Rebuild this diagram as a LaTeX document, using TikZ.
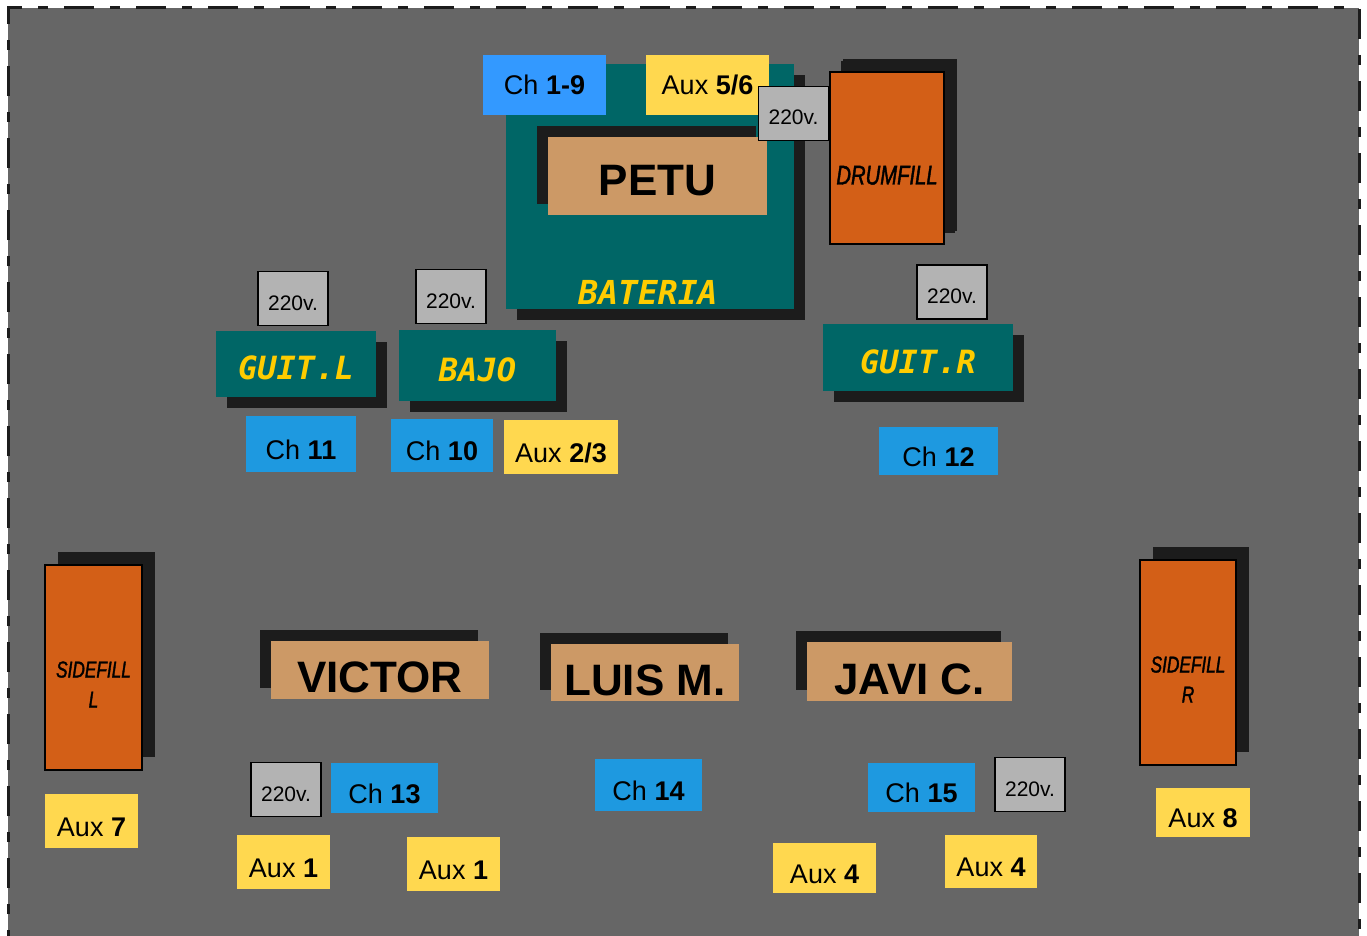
\documentclass[tikz,border=0pt]{standalone}
\usepackage{fontspec}
\setmainfont{Liberation Sans}
\newfontfamily\monofont{DejaVu Sans Mono}
\newfontfamily\spkfont[FakeStretch=0.75,FakeBold=1.5]{Liberation Sans}
\usetikzlibrary{shadows}
\definecolor{stagegray}{HTML}{666666}
\definecolor{shadowc}{HTML}{1C1C1C}
\definecolor{ampteal}{HTML}{006666}
\definecolor{ampyellow}{HTML}{FFCC00}
\definecolor{nametan}{HTML}{CC9966}
\definecolor{spkorange}{HTML}{D35F17}
\definecolor{chblue}{HTML}{1E99E0}
\definecolor{chtop}{HTML}{3399FF}
\definecolor{auxyellow}{HTML}{FFD84F}
\definecolor{voltgray}{HTML}{B3B3B3}
\begin{document}
\begin{tikzpicture}[x=1pt, y=-1pt,
    stagebox/.style={rectangle, inner sep=0pt, text depth=0pt},
    chbox/.style={stagebox, fill=chblue, text height=30pt, font=\fontsize{27}{30}\selectfont},
    auxbox/.style={stagebox, fill=auxyellow, text height=30pt, font=\fontsize{27}{30}\selectfont},
    volt/.style={stagebox, fill=voltgray, draw=black, line width=1.2pt, text height=23pt,
        minimum width=70pt, minimum height=54pt, font=\fontsize{21}{24}\selectfont},
    amp/.style={stagebox, fill=ampteal, text=ampyellow, text height=31pt,
        font=\fontsize{32}{36}\monofont\bfseries\itshape,
        general shadow={fill=shadowc, shadow xshift=11pt, shadow yshift=-11pt}},
    player/.style={stagebox, fill=nametan, text height=45pt, font=\fontsize{44}{48}\selectfont\bfseries,
        general shadow={fill=shadowc, shadow xshift=-11pt, shadow yshift=11pt}},
    speaker/.style={stagebox, fill=spkorange, draw=black, line width=1.2pt, align=center,
        general shadow={fill=shadowc, shadow xshift=13pt, shadow yshift=13pt}}]
    \clip (0,0) rectangle (1367,936);
    % stage
    \fill[stagegray] (8,8) rectangle (1359,960);
    \draw[shadowc, line width=3pt, dash pattern=on 30pt off 16pt on 10pt off 16pt]
        (8,960) -- (8,8) -- (1359,8) -- (1359,960);

    % drums
    \node[amp, minimum width=288pt, minimum height=245pt] (bateria) at (650,186.5) {};
    \node[text=ampyellow, font=\fontsize{33}{36}\monofont\bfseries\itshape] (bateriatxt) at (648,292) {BATERIA};
    \node[player, text height=39pt, minimum width=219pt, minimum height=78pt] (petu) at (657.5,176) {PETU};
    \node[stagebox, fill=chtop, text height=20pt, minimum width=123pt, minimum height=60pt,
        font=\fontsize{27}{30}\selectfont] (ch19) at (544.5,85) {Ch \textbf{1-9}};
    \node[auxbox, text height=20pt, minimum width=123pt, minimum height=60pt] (aux56) at (707.5,85) {Aux \textbf{5/6}};
    \node[speaker, text height=53pt, minimum width=114pt, minimum height=172pt, font=\fontsize{27}{30}\spkfont\itshape,
        general shadow={fill=shadowc, shadow xshift=11pt, shadow yshift=11pt}] (drumfill) at (887,158) {DRUMFILL};

    % 220v boxes
    \foreach \n/\x/\y in {voltdrum/793.5/113.5, voltgl/293/298.5, voltbajo/451/296.5,
        voltgr/952/292, voltvic/286/789.5, voltjavi/1030/784.5}{
        \node[volt] (\n) at (\x,\y) {220v.};
    }

    % amps
    \node[amp, minimum width=160pt, minimum height=66pt] (guitl) at (296,364) {GUIT.L};
    \node[amp, minimum width=157pt, minimum height=71pt] (bajo) at (477.5,365.5) {BAJO};
    \node[amp, minimum width=190pt, minimum height=67pt] (guitr) at (918,357.5) {GUIT.R};

    % channels
    \foreach \n/\x/\y/\w/\h/\t in {ch11/301/444/110/56/11, ch10/442/445.5/102/53/10,
        ch12/938.5/451/119/48/12, ch13/384.5/788/107/50/13, ch14/648.5/785/107/52/14,
        ch15/921.5/787.5/107/49/15}{
        \node[chbox, minimum width=\w pt, minimum height=\h pt] (\n) at (\x,\y) {Ch \textbf{\t}};
    }

    % aux sends
    \foreach \n/\x/\y/\w/\h/\t in {aux23/561/447/114/54/2\slash3, aux7/91.5/821/93/54/7,
        aux8/1203/812.5/94/49/8, auxvica/283.5/862/93/54/1, auxvicb/453.5/864/93/54/1,
        auxjavia/824.5/868/103/50/4, auxjavib/991/861.5/92/53/4}{
        \node[auxbox, minimum width=\w pt, minimum height=\h pt] (\n) at (\x,\y) {Aux \textbf{\t}};
    }

    % sidefills
    \node[speaker, minimum width=97pt, minimum height=205pt, font=\fontsize{23}{30}\spkfont\itshape] (sidel) at (93.5,667.5) {\rule{0pt}{50pt}SIDEFILL\\L};
    \node[speaker, minimum width=96pt, minimum height=205pt, font=\fontsize{23}{30}\spkfont\itshape] (sider) at (1188,662.5) {\rule{0pt}{50pt}SIDEFILL\\R};

    % front line
    \node[player, minimum width=218pt, minimum height=58pt] (victor) at (380,670) {VICTOR};
    \node[player, minimum width=188pt, minimum height=57pt] (luis) at (645,672.5) {LUIS M.};
    \node[player, minimum width=205pt, minimum height=59pt] (javi) at (909.5,671.5) {JAVI C.};
\end{tikzpicture}
\end{document}
